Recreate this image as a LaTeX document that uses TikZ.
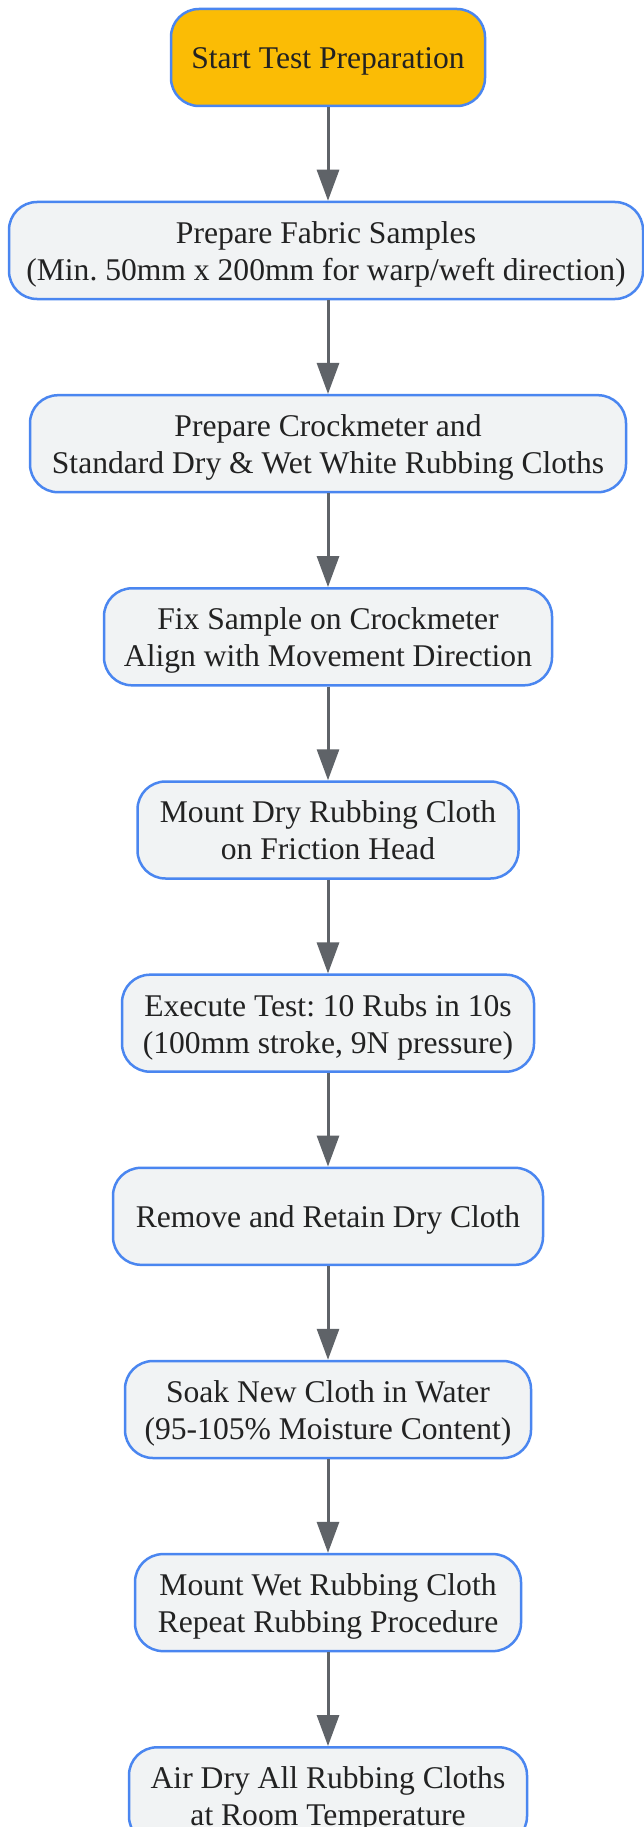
\documentclass[tikz,border=0pt]{standalone}
\usepackage{fontspec}
\setmainfont{Liberation Serif}
\usetikzlibrary{arrows.meta}
\frenchspacing
\definecolor{startfill}{HTML}{FBBC05}
\definecolor{boxfill}{HTML}{F1F3F4}
\definecolor{boxborder}{HTML}{4A86F0}
\definecolor{arrowgray}{HTML}{5F6368}
\definecolor{txt}{HTML}{222222}
\newcommand\lnstrut{\rule[-7.1pt]{0pt}{37pt}}
\tikzset{
  stepbox/.style={draw=boxborder, line width=2.5pt, fill=boxfill, rounded corners=28pt,
    minimum height=97pt, inner xsep=4pt, inner ysep=0pt, align=center, text=txt,
    font=\fontsize{31.6}{37}\selectfont\frenchspacing},
  startbox/.style={stepbox, fill=startfill},
  flow/.style={draw=arrowgray, line width=3pt, -{Triangle[length=31pt,width=22pt]}}
}
\begin{document}
\begin{tikzpicture}[x=1pt,y=-1pt]
\useasboundingbox[fill=white] (0,0) rectangle (643,1827);
\node[startbox, minimum width=314pt] (n1) at (328,57.5) {\lnstrut Start Test Preparation};
\node[stepbox, minimum width=634pt] (n2) at (326,250.5) {\lnstrut Prepare Fabric Samples\\\lnstrut(Min. 50mm x 200mm for warp/weft direction)};
\node[stepbox, minimum width=596pt] (n3) at (328,443.7) {\lnstrut Prepare Crockmeter and\\\lnstrut Standard Dry \& Wet White Rubbing Cloths};
\node[stepbox, minimum width=448pt] (n4) at (328,636.8) {\lnstrut Fix Sample on Crockmeter\\\lnstrut Align with Movement Direction};
\node[stepbox, minimum width=381pt] (n5) at (328,830.0) {\lnstrut Mount Dry Rubbing Cloth\\\lnstrut on Friction Head};
\node[stepbox, minimum width=412pt] (n6) at (328,1023.2) {\lnstrut Execute Test: 10 Rubs in 10s\\\lnstrut(100mm stroke, 9N pressure)};
\node[stepbox, minimum width=430pt] (n7) at (328,1216.3) {\lnstrut Remove and Retain Dry Cloth};
\node[stepbox, minimum width=406pt] (n8) at (328,1409.5) {\lnstrut Soak New Cloth in Water\\\lnstrut(95-105\% Moisture Content)};
\node[stepbox, minimum width=386pt] (n9) at (328,1602.6) {\lnstrut Mount Wet Rubbing Cloth\\\lnstrut Repeat Rubbing Procedure};
\node[stepbox, minimum width=398pt] (n10) at (328,1795.8) {\lnstrut Air Dry All Rubbing Cloths\\\lnstrut at Room Temperature};
\foreach \a/\b in {n1/n2,n2/n3,n3/n4,n4/n5,n5/n6,n6/n7,n7/n8,n8/n9,n9/n10}
  \draw[flow] (\a.south -| 328,0) -- (\b.north -| 328,0);
\end{tikzpicture}
\end{document}
